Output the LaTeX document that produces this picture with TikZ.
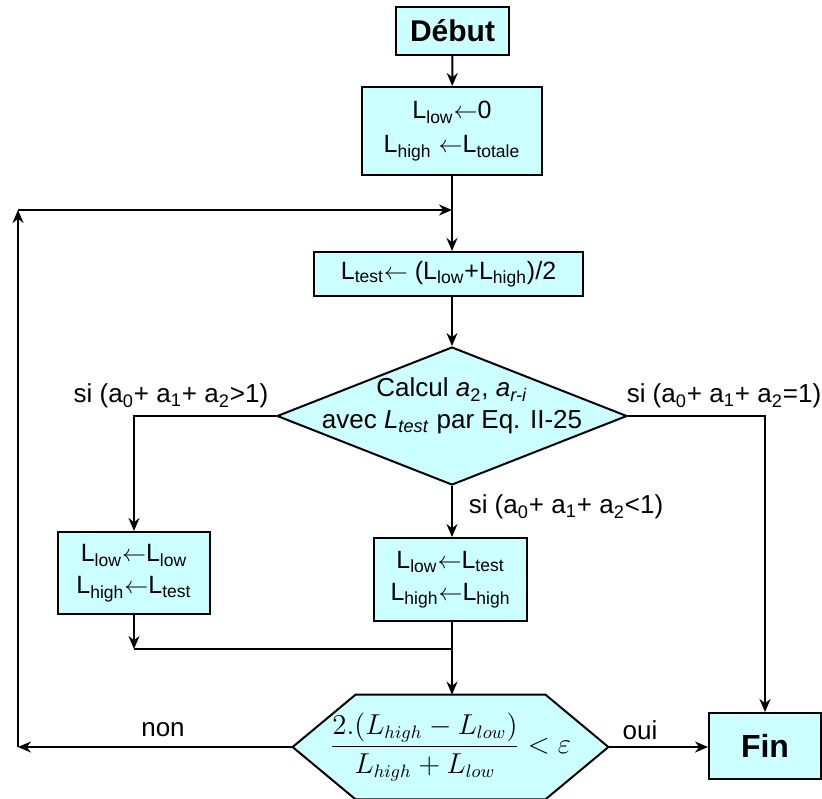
\documentclass[tikz,border=0pt]{standalone}
\usepackage{amsmath,amssymb}
\usepackage{xcolor}
\usepackage{fontspec}
\setmainfont{Liberation Sans}
\usepackage{tikz}
\usetikzlibrary{arrows.meta,shapes.geometric,positioning,calc,backgrounds}

\definecolor{boxcyan}{RGB}{204,255,255}

\begin{document}
\begin{tikzpicture}[x=0.5pt,y=-0.5pt,
		flow/.style={line width=1pt},
		arr/.style={flow, -{Stealth[length=6.5pt,width=5.5pt]}},
		blk/.style={draw, line width=1pt, fill=boxcyan, align=center, inner sep=1pt,
				font=\fontsize{12.5}{16}\selectfont},
		lbl/.style={font=\fontsize{13}{16}\selectfont, inner sep=1pt}]
		\useasboundingbox (0,0) rectangle (822,798);

		% boxes
		\node[blk, font=\fontsize{15}{17}\selectfont\bfseries, minimum width=56.5pt, minimum height=24pt] (debut) at (452.5,31) {Début};
		\node[blk, font=\fontsize{12.5}{17}\selectfont, minimum width=90pt, minimum height=44pt] (init) at (452,131)
		{L\textsubscript{low}$\leftarrow$0\\L\textsubscript{high} $\leftarrow$L\textsubscript{totale}};
		\node[blk, minimum width=134.5pt, minimum height=22pt] (test) at (448.5,274)
		{L\textsubscript{test}$\leftarrow$ (L\textsubscript{low}+L\textsubscript{high})/2};
		\node[blk, diamond, aspect=2.54, inner sep=0pt, minimum width=175pt, minimum height=69pt,
			label={[lbl, align=center, yshift=5]center:Calcul \textit{a}\textsubscript{2}, \textit{a}\textsubscript{\textit{r-i}}\\
						avec \textit{L}\textsubscript{\textit{test}} par Eq. II-25}] (calc) at (452,416) {};
		\node[blk, minimum width=76pt, minimum height=41pt] (lowbox) at (134,573)
		{L\textsubscript{low}$\leftarrow$L\textsubscript{low}\\L\textsubscript{high}$\leftarrow$L\textsubscript{test}};
		\node[blk, minimum width=76.5pt, minimum height=41.5pt] (highbox) at (450.5,579.5)
		{L\textsubscript{low}$\leftarrow$L\textsubscript{test}\\L\textsubscript{high}$\leftarrow$L\textsubscript{high}};
		\node[minimum width=157.5pt, minimum height=52pt, inner sep=0pt, font=\fontsize{13.5}{15}\selectfont] (crit) at (450.5,747)
		{$\dfrac{2.(L_{high}-L_{low})}{L_{high}+L_{low}}<\varepsilon$};
		\begin{scope}[on background layer]
			\draw[flow, fill=boxcyan] (crit.west) -- ($(crit.north west)+(63,0)$) -- ($(crit.north east)+(-63,0)$)
			-- (crit.east) -- ($(crit.south east)+(-63,0)$) -- ($(crit.south west)+(63,0)$) -- cycle;
		\end{scope}
		\node[blk, font=\fontsize{16}{18}\selectfont\bfseries, minimum width=56pt, minimum height=33pt] (fin) at (765,746) {Fin};

		% junction points
		\coordinate (join) at (452,210);
		\coordinate (looptop) at (18,210);
		\coordinate (loopbot) at (18,747);
		\coordinate (merge) at (452,649);

		% connectors
		\draw[arr] (debut) -- (init);
		\draw[flow] (init.south) -- (join);
		\draw[arr] (join) -- (join |- test.north);
		\draw[arr] (calc.north |- test.south) -- (calc.north);
		\draw[arr] (calc.west) -| (lowbox.north);
		\draw[arr] (calc.east) -| (fin.north);
		\draw[arr] (calc.south) -- (calc.south |- highbox.north);
		\draw[arr] (lowbox.south) -- (lowbox.south |- merge);
		\draw[flow] (lowbox.south |- merge) -- (merge);
		\draw[flow] (merge |- highbox.south) -- (merge);
		\draw[arr] (merge) -- (merge |- crit.north);
		\draw[arr] (crit.east) -- (fin.west |- crit.east);
		\draw[arr] (crit.west) -- (loopbot);
		\draw[arr] (loopbot) -- (looptop);
		\draw[arr] (looptop) -- (join);

		% labels
		\node[lbl] (lblgt) at (171,396) {si (a\textsubscript{0}+ a\textsubscript{1}+ a\textsubscript{2}>1)};
		\node[lbl] (lbleq) at (724,396) {si (a\textsubscript{0}+ a\textsubscript{1}+ a\textsubscript{2}=1)};
		\node[lbl] (lbllt) at (566,507) {si (a\textsubscript{0}+ a\textsubscript{1}+ a\textsubscript{2}<1)};
		\node[lbl] (lblnon) at (163,730) {non};
		\node[lbl] (lbloui) at (640,730) {oui};
	\end{tikzpicture}
\end{document}
